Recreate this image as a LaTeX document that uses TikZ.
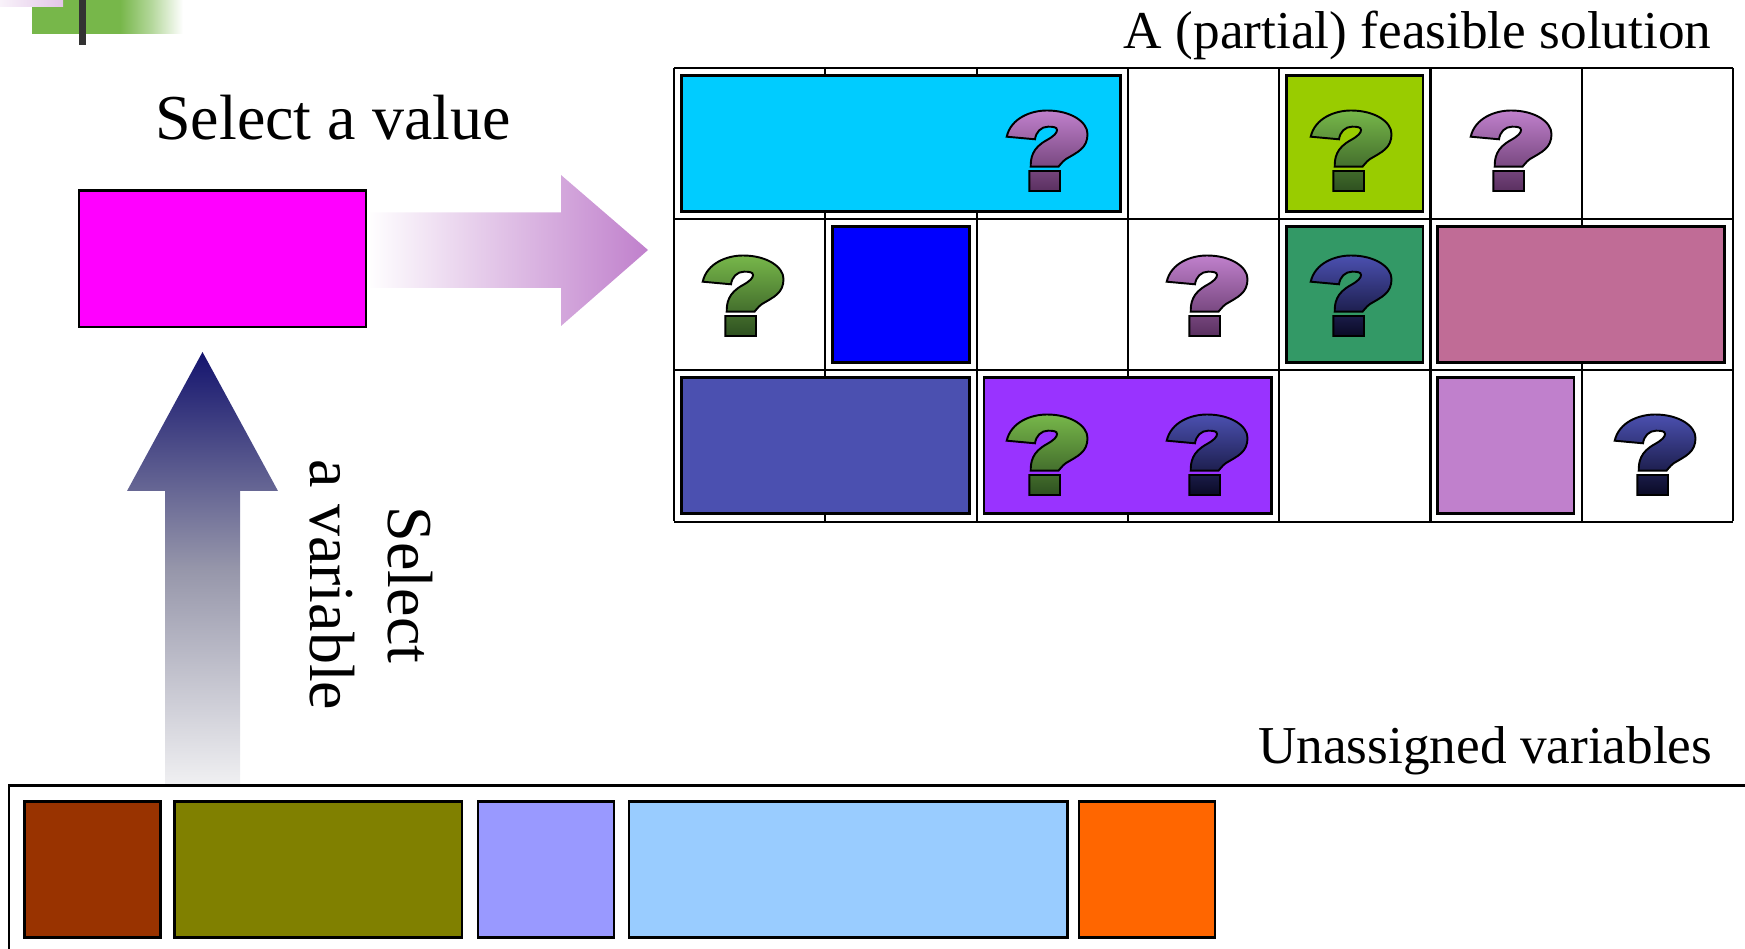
\documentclass[tikz,border=0pt]{standalone}
\usepackage{fontspec}
\setmainfont{Liberation Serif}
\definecolor{lilac}{HTML}{C080CC}
\definecolor{lilacdark}{HTML}{5A3060}
\definecolor{leaf}{HTML}{77B74A}
\definecolor{leafdark}{HTML}{2E5020}
\definecolor{indigo}{HTML}{4B50B0}
\definecolor{indigodark}{HTML}{0A0A25}
\definecolor{navy}{HTML}{14146E}
\definecolor{navymid}{HTML}{9696AA}
\definecolor{navypale}{HTML}{F0F0F2}
\tikzset{
	varbox/.style={draw=black,line width=0.75pt,line join=miter},
	gridline/.style={draw=black,line width=0.6pt},
	bigtext/.style={inner sep=0pt,font=\fontsize{18.2}{22}\selectfont},
	smalltext/.style={inner sep=0pt,font=\fontsize{15.15}{18}\selectfont},
	qmark/.pic={
		\shade[draw=black,line width=0.55pt,top color=\qtop,bottom color=\qbot]
			(0.7,26.7) .. controls (5,8) and (25,0.5) .. (41,0.5)
			.. controls (65,0.5) and (81.5,12) .. (81.5,24)
			.. controls (81.5,38) and (72,42) .. (60,49)
			.. controls (56,52) and (54,55) .. (52.5,56.7)
			-- (24.7,56.7)
			.. controls (24.7,48) and (26,38) .. (41,30)
			.. controls (48,26) and (51,23) .. (51,20)
			.. controls (51,17) and (47,16.7) .. (42,16.7)
			.. controls (35,16.7) and (30,22) .. (29,29.3)
			-- cycle
			(23.3,61) rectangle (54,81);
	}
}
\begin{document}
\begin{tikzpicture}[x=0.01cm,y=-0.01cm]
	\useasboundingbox (0,0) rectangle (1745,949);
	\clip (0,0) rectangle (1745,949);
	
	% corner of the slide
	\shade[left color=leaf,right color=white,middle color=leaf!55!white] (120,0) rectangle (183,34);
	\fill[leaf] (32,0) rectangle (120,34);
	\shade[left color=lilac!10!white,right color=lilac!45!white] (0,0) rectangle (63,7);
	\fill[black!80] (79,0) rectangle (86,45);
	
	% partial solution
	\foreach \gx in {0,...,7}
		\draw[gridline] ({674+151.3*\gx},68) -- ({674+151.3*\gx},521.5);
	\foreach \gy in {0,...,3}
		\draw[gridline] (674,{68+151.2*\gy}) -- (1733,{68+151.2*\gy});
	
	\foreach \bxa/\bya/\bxb/\byb/\bcol in {
		681.5/75.7/1120.7/211.5/{rgb,255:red,0;green,204;blue,255},
		1286.5/75.7/1423/211.5/{rgb,255:red,153;green,204;blue,0},
		832.5/226.7/969.5/362.5/{rgb,255:red,0;green,0;blue,255},
		1286.5/226.7/1423/362.5/{rgb,255:red,51;green,153;blue,102},
		1437.5/226.7/1724.5/362.5/{rgb,255:red,192;green,108;blue,150},
		681.5/377.7/969.5/513.5/indigo,
		984/377.7/1271.5/513.5/{rgb,255:red,153;green,51;blue,255},
		1437.5/377.7/1574/513.5/lilac,
		24.5/801.5/160.5/937.5/{rgb,255:red,153;green,51;blue,0},
		174.5/801.5/462/937.5/{rgb,255:red,128;green,128;blue,0},
		478/801.5/614/937.5/{rgb,255:red,153;green,153;blue,255},
		629/801.5/1067.5/937.5/{rgb,255:red,153;green,204;blue,255},
		1079/801.5/1215/937.5/{rgb,255:red,255;green,102;blue,0},
		79/190.5/366/327/{rgb,255:red,255;green,0;blue,255}}
		\draw[varbox,fill={\bcol}] (\bxa,\bya) rectangle (\bxb,\byb);
	
	\foreach \qx/\qy/\qtop/\qbot in {
		1006/110/lilac/lilacdark,
		1310/110/leaf/leafdark,
		1470/110/lilac/lilacdark,
		702/255/leaf/leafdark,
		1166/255/lilac/lilacdark,
		1310/255/indigo/indigodark,
		1006/414/leaf/leafdark,
		1166/414/indigo/indigodark,
		1614/414/indigo/indigodark}
		\pic at (\qx,\qy) {qmark};
	
	% arrows
	\shade[left color=white,right color=lilac]
		(367,212.5) -- (561,212.5) -- (561,175) -- (648,250) -- (561,326) -- (561,288) -- (367,288) -- cycle;
	\shade[top color=navy,bottom color=navypale,middle color=navymid]
		(202.5,352) -- (278,491) -- (240,491) -- (240,785) -- (165,785) -- (165,491) -- (127,491) -- cycle;
	
	% unassigned variables
	\draw[line width=0.75pt] (9,960) -- (9,785.5) -- (1760,785.5);
	
	\node[bigtext,anchor=base] (selvalue) at (333,140) {Select a value};
	\node[smalltext,anchor=base east] (solution) at (1712,49) {A (partial) feasible solution};
	\node[smalltext,anchor=base east] (unassigned) at (1713,763) {Unassigned variables};
	\node[bigtext,rotate=-90,align=center] (selvar) at (371.5,585) {Select\\a variable};
\end{tikzpicture}
\end{document}
